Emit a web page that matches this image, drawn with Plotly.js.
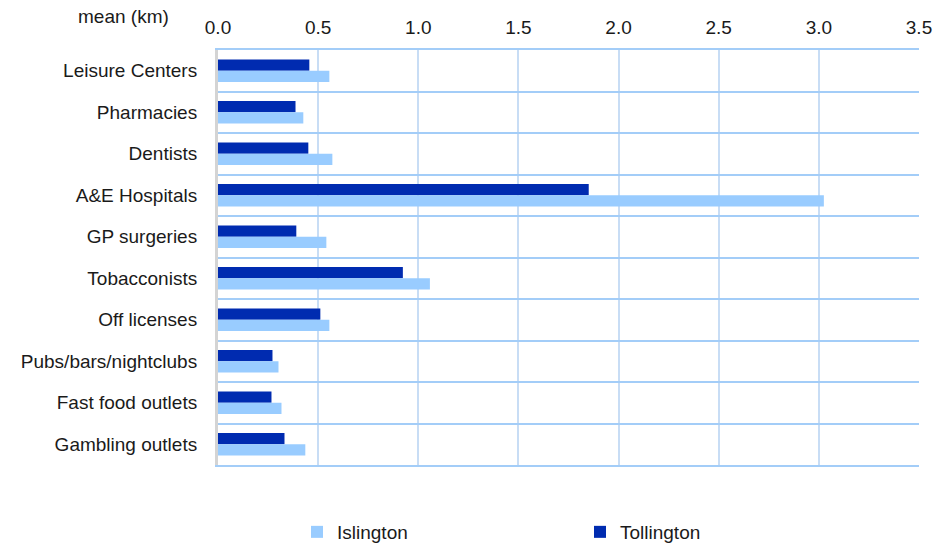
<!DOCTYPE html>
<html>
<head>
<meta charset="utf-8">
<script src="https://cdn.plot.ly/plotly-3.0.1.min.js"></script>
<style>
html,body{margin:0;padding:0;background:#fff;}
#chart{width:952px;height:544px;}
</style>
</head>
<body>
<div id="chart"></div>
<script>
const categories = ["Leisure Centers","Pharmacies","Dentists","A&E Hospitals","GP surgeries","Tobacconists","Off licenses","Pubs/bars/nightclubs","Fast food outlets","Gambling outlets"];
const islington = [0.556,0.426,0.571,3.025,0.541,1.058,0.556,0.302,0.317,0.436];
const tollington = [0.456,0.387,0.451,1.851,0.391,0.923,0.511,0.272,0.267,0.332];
const xTicks = [0,0.5,1,1.5,2,2.5,3,3.5];
const xTickLabels = ["0.0","0.5","1.0","1.5","2.0","2.5","3.0","3.5"];

const FONT = "Liberation Sans, Arial, sans-serif";
const FS = 19;

const traces = [
  {type:"bar", orientation:"h", name:"Tollington", y:categories, x:tollington,
   marker:{color:"#002bb0"}, hoverinfo:"x+y"},
  {type:"bar", orientation:"h", name:"Islington", y:categories, x:islington,
   marker:{color:"#99ccff"}, hoverinfo:"x+y"}
];

const layout = {
  width:952, height:544,
  paper_bgcolor:"#ffffff", plot_bgcolor:"#ffffff",
  margin:{l:218, r:33, t:50, b:79, pad:0, autoexpand:false},
  barmode:"group", bargap:0.46, bargroupgap:0,
  font:{family:FONT, size:FS, color:"#1a1a1a"},
  showlegend:true,
  legend:{orientation:"h", traceorder:"reversed", x:(297-218)/701, xanchor:"left",
          yref:"container", y:1-532/544, yanchor:"middle",
          entrywidth:238, font:{family:FONT, size:FS, color:"#1a1a1a"}, bgcolor:"rgba(0,0,0,0)"},
  xaxis:{side:"top", range:[0,3.5], tickvals:xTicks, ticktext:xTickLabels,
         showgrid:true, gridcolor:"#c8ddf5", gridwidth:2, zeroline:false,
         showline:true, linecolor:"#a3cdf8", linewidth:2, mirror:true,
         ticks:"", ticklabelstandoff:6, tickfont:{family:FONT, size:FS, color:"#1a1a1a"},
         fixedrange:true},
  yaxis:{type:"category", autorange:"reversed", tickson:"boundaries",
         showgrid:true, gridcolor:"#a3cdf8", gridwidth:2, zeroline:false,
         showline:true, linecolor:"#d4d4d4", linewidth:3,
         ticks:"", ticklabelstandoff:14, tickfont:{family:FONT, size:FS, color:"#1a1a1a"},
         fixedrange:true},
  annotations:[{text:"mean (km)", xref:"paper", yref:"paper", x:(123-218)/701, y:1+(50-17)/415,
                xanchor:"center", yanchor:"middle", showarrow:false,
                font:{family:FONT, size:FS, color:"#1a1a1a"}}]
};

Plotly.newPlot("chart", traces, layout, {displayModeBar:false, staticPlot:true});
</script>
</body>
</html>
